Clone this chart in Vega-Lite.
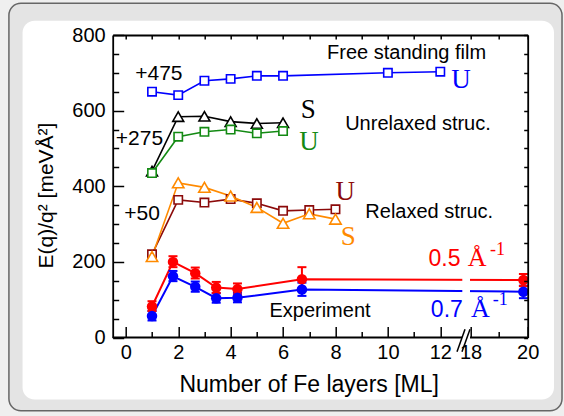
{
  "$schema": "https://vega.github.io/schema/vega-lite/v6.json",
  "width": 415,
  "height": 302.5,
  "autosize": "none",
  "padding": {"left": 112.7, "top": 35, "right": 36.3, "bottom": 78.5},
  "background": "#efefef",
  "datasets": {
    "theory": [
      {"series": "free", "layers": 1, "E": 650},
      {"series": "free", "layers": 2, "E": 641},
      {"series": "free", "layers": 3, "E": 679},
      {"series": "free", "layers": 4, "E": 684},
      {"series": "free", "layers": 5, "E": 692},
      {"series": "free", "layers": 6, "E": 692},
      {"series": "free", "layers": 10, "E": 700},
      {"series": "free", "layers": 12, "E": 703},
      {"series": "uS", "layers": 1, "E": 440},
      {"series": "uS", "layers": 2, "E": 584},
      {"series": "uS", "layers": 3, "E": 585},
      {"series": "uS", "layers": 4, "E": 571},
      {"series": "uS", "layers": 5, "E": 566},
      {"series": "uS", "layers": 6, "E": 568},
      {"series": "uU", "layers": 1, "E": 435},
      {"series": "uU", "layers": 2, "E": 531},
      {"series": "uU", "layers": 3, "E": 544},
      {"series": "uU", "layers": 4, "E": 550},
      {"series": "uU", "layers": 5, "E": 540},
      {"series": "uU", "layers": 6, "E": 546},
      {"series": "rU", "layers": 1, "E": 220},
      {"series": "rU", "layers": 2, "E": 364},
      {"series": "rU", "layers": 3, "E": 357},
      {"series": "rU", "layers": 4, "E": 366},
      {"series": "rU", "layers": 5, "E": 355},
      {"series": "rU", "layers": 6, "E": 335},
      {"series": "rU", "layers": 7, "E": 337},
      {"series": "rU", "layers": 8, "E": 339},
      {"series": "rS", "layers": 1, "E": 214},
      {"series": "rS", "layers": 2, "E": 409},
      {"series": "rS", "layers": 3, "E": 397},
      {"series": "rS", "layers": 4, "E": 374},
      {"series": "rS", "layers": 5, "E": 344},
      {"series": "rS", "layers": 6, "E": 302},
      {"series": "rS", "layers": 7, "E": 327},
      {"series": "rS", "layers": 8, "E": 313}
    ],
    "experiment": [
      {"series": "0.5", "layers": 1.0, "E": 82, "lo": 70, "hi": 96},
      {"series": "0.5", "layers": 1.8, "E": 200, "lo": 186, "hi": 215},
      {"series": "0.5", "layers": 2.65, "E": 170, "lo": 156, "hi": 185},
      {"series": "0.5", "layers": 3.45, "E": 132, "lo": 118, "hi": 147},
      {"series": "0.5", "layers": 4.26, "E": 128, "lo": 114, "hi": 143},
      {"series": "0.5", "layers": 6.72, "E": 154, "lo": 124, "hi": 186},
      {"series": "0.5", "layers": 19.85, "E": 152, "lo": 136, "hi": 168},
      {"series": "0.7", "layers": 1.0, "E": 57, "lo": 45, "hi": 70},
      {"series": "0.7", "layers": 1.8, "E": 162, "lo": 149, "hi": 176},
      {"series": "0.7", "layers": 2.65, "E": 134, "lo": 121, "hi": 148},
      {"series": "0.7", "layers": 3.45, "E": 104, "lo": 92, "hi": 117},
      {"series": "0.7", "layers": 4.26, "E": 105, "lo": 93, "hi": 118},
      {"series": "0.7", "layers": 6.72, "E": 127, "lo": 110, "hi": 145},
      {"series": "0.7", "layers": 19.85, "E": 121, "lo": 104, "hi": 137}
    ]
  },
  "resolve": {"axis": {"x": "independent", "y": "independent"}},
  "layer": [
    {
      "data": {"values": [{}]},
      "mark": {"type": "rect", "fill": "#e4e4e4", "stroke": "#666666", "strokeWidth": 1.5, "cornerRadius": 12},
      "encoding": {
        "x": {"datum": -4.46, "type": "quantitative", "scale": {"domain": [-0.5, 12, 18, 20], "range": [0, 327.6, 357.8, 415], "nice": false, "zero": false}, "axis": null},
        "x2": {"datum": 21.2},
        "y": {"datum": -194, "type": "quantitative", "scale": {"domain": [0, 800], "nice": false, "zero": false}, "axis": null},
        "y2": {"datum": 884}
      }
    },
    {
      "data": {"values": [{}]},
      "mark": {"type": "rect", "fill": "white", "cornerRadius": 12},
      "encoding": {
        "x": {"datum": -3.94, "type": "quantitative", "scale": {"domain": [-0.5, 12, 18, 20], "range": [0, 327.6, 357.8, 415], "nice": false, "zero": false}, "axis": null},
        "x2": {"datum": 20.92},
        "y": {"datum": -164, "type": "quantitative", "scale": {"domain": [0, 800], "nice": false, "zero": false}, "axis": null},
        "y2": {"datum": 838}
      }
    },
    {
      "data": {"name": "theory"},
      "mark": {"type": "line", "strokeWidth": 1.6},
      "encoding": {
        "x": {"field": "layers", "type": "quantitative", "scale": {"domain": [-0.5, 12, 18, 20], "range": [0, 327.6, 357.8, 415], "nice": false, "zero": false},
          "axis": {"orient": "top", "zindex": 1, "labels": false, "title": null, "values": [0, 1, 2, 3, 4, 5, 6, 7, 8, 9, 10, 11, 12, 18, 19, 20], "tickSize": -4}},
        "y": {"field": "E", "type": "quantitative", "scale": {"domain": [0, 800], "nice": false, "zero": false},
          "axis": {"orient": "right", "zindex": 1, "labels": false, "title": null, "values": [0, 50, 100, 150, 200, 250, 300, 350, 400, 450, 500, 550, 600, 650, 700, 750, 800], "tickSize": -4}},
        "color": {"field": "series", "type": "nominal", "legend": null,
          "scale": {"domain": ["free", "uS", "uU", "rS", "rU", "0.5", "0.7"], "range": ["#0000ff", "#000000", "#138a13", "#ff8a00", "#8b0a0a", "#ff0000", "#0000ff"]}}
      }
    },
    {
      "data": {"name": "theory"},
      "transform": [{"filter": {"field": "series", "equal": "uS"}}],
      "mark": {"type": "point", "shape": "triangle-up", "size": 120, "fill": "white", "strokeWidth": 1.6, "opacity": 1},
      "encoding": {
        "x": {"field": "layers", "type": "quantitative", "scale": {"domain": [-0.5, 12, 18, 20], "range": [0, 327.6, 357.8, 415], "nice": false, "zero": false}, "axis": null},
        "y": {"field": "E", "type": "quantitative", "scale": {"domain": [0, 800], "nice": false, "zero": false}, "axis": null},
        "stroke": {"field": "series", "type": "nominal", "legend": null,
          "scale": {"domain": ["free", "uS", "uU", "rS", "rU", "0.5", "0.7"], "range": ["#0000ff", "#000000", "#138a13", "#ff8a00", "#8b0a0a", "#ff0000", "#0000ff"]}}
      }
    },
    {
      "data": {"name": "theory"},
      "transform": [{"filter": {"field": "series", "oneOf": ["free", "uU", "rU"]}}],
      "mark": {"type": "point", "shape": "square", "size": 70, "fill": "white", "strokeWidth": 1.6, "opacity": 1},
      "encoding": {
        "x": {"field": "layers", "type": "quantitative", "scale": {"domain": [-0.5, 12, 18, 20], "range": [0, 327.6, 357.8, 415], "nice": false, "zero": false}, "axis": null},
        "y": {"field": "E", "type": "quantitative", "scale": {"domain": [0, 800], "nice": false, "zero": false}, "axis": null},
        "stroke": {"field": "series", "type": "nominal", "legend": null,
          "scale": {"domain": ["free", "uS", "uU", "rS", "rU", "0.5", "0.7"], "range": ["#0000ff", "#000000", "#138a13", "#ff8a00", "#8b0a0a", "#ff0000", "#0000ff"]}}
      }
    },
    {
      "data": {"name": "theory"},
      "transform": [{"filter": {"field": "series", "equal": "rS"}}],
      "mark": {"type": "point", "shape": "triangle-up", "size": 130, "fill": "white", "strokeWidth": 1.6, "opacity": 1},
      "encoding": {
        "x": {"field": "layers", "type": "quantitative", "scale": {"domain": [-0.5, 12, 18, 20], "range": [0, 327.6, 357.8, 415], "nice": false, "zero": false}, "axis": null},
        "y": {"field": "E", "type": "quantitative", "scale": {"domain": [0, 800], "nice": false, "zero": false}, "axis": null},
        "stroke": {"field": "series", "type": "nominal", "legend": null,
          "scale": {"domain": ["free", "uS", "uU", "rS", "rU", "0.5", "0.7"], "range": ["#0000ff", "#000000", "#138a13", "#ff8a00", "#8b0a0a", "#ff0000", "#0000ff"]}}
      }
    },
    {
      "data": {"name": "experiment"},
      "mark": {"type": "line", "strokeWidth": 2},
      "encoding": {
        "x": {"field": "layers", "type": "quantitative", "scale": {"domain": [-0.5, 12, 18, 20], "range": [0, 327.6, 357.8, 415], "nice": false, "zero": false}, "axis": null},
        "y": {"field": "E", "type": "quantitative", "scale": {"domain": [0, 800], "nice": false, "zero": false}, "axis": null},
        "color": {"field": "series", "type": "nominal", "legend": null,
          "scale": {"domain": ["free", "uS", "uU", "rS", "rU", "0.5", "0.7"], "range": ["#0000ff", "#000000", "#138a13", "#ff8a00", "#8b0a0a", "#ff0000", "#0000ff"]}}
      }
    },
    {
      "data": {"values": [{}]},
      "mark": {"type": "rect", "fill": "white"},
      "encoding": {
        "x": {"datum": 16.37, "type": "quantitative", "scale": {"domain": [-0.5, 12, 18, 20], "range": [0, 327.6, 357.8, 415], "nice": false, "zero": false}, "axis": null},
        "x2": {"datum": 17.9},
        "y": {"datum": 105, "type": "quantitative", "scale": {"domain": [0, 800], "nice": false, "zero": false}, "axis": null},
        "y2": {"datum": 172}
      }
    },
    {
      "data": {"name": "experiment"},
      "mark": {"type": "rule", "strokeWidth": 2},
      "encoding": {
        "x": {"field": "layers", "type": "quantitative", "scale": {"domain": [-0.5, 12, 18, 20], "range": [0, 327.6, 357.8, 415], "nice": false, "zero": false}, "axis": null},
        "y": {"field": "lo", "type": "quantitative", "scale": {"domain": [0, 800], "nice": false, "zero": false}, "axis": null},
        "y2": {"field": "hi"},
        "color": {"field": "series", "type": "nominal", "legend": null,
          "scale": {"domain": ["free", "uS", "uU", "rS", "rU", "0.5", "0.7"], "range": ["#0000ff", "#000000", "#138a13", "#ff8a00", "#8b0a0a", "#ff0000", "#0000ff"]}}
      }
    },
    {
      "data": {"name": "experiment"},
      "mark": {"type": "tick", "orient": "horizontal", "size": 9, "thickness": 2, "opacity": 1},
      "encoding": {
        "x": {"field": "layers", "type": "quantitative", "scale": {"domain": [-0.5, 12, 18, 20], "range": [0, 327.6, 357.8, 415], "nice": false, "zero": false}, "axis": null},
        "y": {"field": "hi", "type": "quantitative", "scale": {"domain": [0, 800], "nice": false, "zero": false}, "axis": null},
        "color": {"field": "series", "type": "nominal", "legend": null,
          "scale": {"domain": ["free", "uS", "uU", "rS", "rU", "0.5", "0.7"], "range": ["#0000ff", "#000000", "#138a13", "#ff8a00", "#8b0a0a", "#ff0000", "#0000ff"]}}
      }
    },
    {
      "data": {"name": "experiment"},
      "mark": {"type": "tick", "orient": "horizontal", "size": 9, "thickness": 2, "opacity": 1},
      "encoding": {
        "x": {"field": "layers", "type": "quantitative", "scale": {"domain": [-0.5, 12, 18, 20], "range": [0, 327.6, 357.8, 415], "nice": false, "zero": false}, "axis": null},
        "y": {"field": "lo", "type": "quantitative", "scale": {"domain": [0, 800], "nice": false, "zero": false}, "axis": null},
        "color": {"field": "series", "type": "nominal", "legend": null,
          "scale": {"domain": ["free", "uS", "uU", "rS", "rU", "0.5", "0.7"], "range": ["#0000ff", "#000000", "#138a13", "#ff8a00", "#8b0a0a", "#ff0000", "#0000ff"]}}
      }
    },
    {
      "data": {"name": "experiment"},
      "mark": {"type": "point", "filled": true, "size": 110, "opacity": 1, "strokeWidth": 0},
      "encoding": {
        "x": {"field": "layers", "type": "quantitative", "scale": {"domain": [-0.5, 12, 18, 20], "range": [0, 327.6, 357.8, 415], "nice": false, "zero": false},
          "axis": {"orient": "bottom", "zindex": 1, "domain": false, "values": [0, 1, 2, 3, 4, 5, 6, 7, 8, 9, 10, 11, 12, 18, 19, 20],
            "labelExpr": "datum.value % 2 === 0 ? datum.label : ''",
            "tickSize": {"condition": {"test": "datum.value % 2 === 0", "value": -11}, "value": -6},
            "labelPadding": 16, "labelFlush": false, "labelOverlap": false,
            "title": "Number of Fe layers [ML]", "titleX": 196, "titlePadding": 6}},
        "y": {"field": "E", "type": "quantitative", "scale": {"domain": [0, 800], "nice": false, "zero": false},
          "axis": {"orient": "left", "zindex": 1, "values": [0, 50, 100, 150, 200, 250, 300, 350, 400, 450, 500, 550, 600, 650, 700, 750, 800],
            "labelExpr": "datum.value % 200 === 0 ? datum.label : ''",
            "tickSize": {"condition": {"test": "datum.value % 200 === 0", "value": -11}, "value": -6},
            "labelPadding": 18.5, "labelFlush": false, "labelOverlap": false,
            "title": "E(q)/q² [meVÅ²]", "titleFontSize": 21, "titleY": 160, "titlePadding": 15}},
        "color": {"field": "series", "type": "nominal", "legend": null,
          "scale": {"domain": ["free", "uS", "uU", "rS", "rU", "0.5", "0.7"], "range": ["#0000ff", "#000000", "#138a13", "#ff8a00", "#8b0a0a", "#ff0000", "#0000ff"]}}
      }
    },
    {
      "data": {"values": [{}]},
      "mark": {"type": "rule", "color": "black", "strokeWidth": 1.8},
      "encoding": {
        "x": {"datum": -0.5, "type": "quantitative", "scale": {"domain": [-0.5, 12, 18, 20], "range": [0, 327.6, 357.8, 415], "nice": false, "zero": false}, "axis": null},
        "x2": {"datum": 16.31},
        "y": {"datum": 0, "type": "quantitative", "scale": {"domain": [0, 800], "nice": false, "zero": false}, "axis": null}
      }
    },
    {
      "data": {"values": [{}]},
      "mark": {"type": "rule", "color": "black", "strokeWidth": 1.8},
      "encoding": {
        "x": {"datum": 17.9, "type": "quantitative", "scale": {"domain": [-0.5, 12, 18, 20], "range": [0, 327.6, 357.8, 415], "nice": false, "zero": false}, "axis": null},
        "x2": {"datum": 20},
        "y": {"datum": 0, "type": "quantitative", "scale": {"domain": [0, 800], "nice": false, "zero": false}, "axis": null}
      }
    },
    {
      "data": {"values": [{}]},
      "mark": {"type": "rule", "color": "black", "strokeWidth": 1.5},
      "encoding": {
        "x": {"datum": 15.32, "type": "quantitative", "scale": {"domain": [-0.5, 12, 18, 20], "range": [0, 327.6, 357.8, 415], "nice": false, "zero": false}, "axis": null},
        "x2": {"datum": 16.91},
        "y": {"datum": -38, "type": "quantitative", "scale": {"domain": [0, 800], "nice": false, "zero": false}, "axis": null},
        "y2": {"datum": 22}
      }
    },
    {
      "data": {"values": [{}]},
      "mark": {"type": "rule", "color": "black", "strokeWidth": 1.5},
      "encoding": {
        "x": {"datum": 16.31, "type": "quantitative", "scale": {"domain": [-0.5, 12, 18, 20], "range": [0, 327.6, 357.8, 415], "nice": false, "zero": false}, "axis": null},
        "x2": {"datum": 17.9},
        "y": {"datum": -38, "type": "quantitative", "scale": {"domain": [0, 800], "nice": false, "zero": false}, "axis": null},
        "y2": {"datum": 22}
      }
    },
    {
      "data": {"values": [{}]},
      "mark": {"type": "text", "text": "Free standing film", "align": "left", "baseline": "alphabetic", "font": "Liberation Sans", "fontSize": 20, "color": "black"},
      "encoding": {
        "x": {"datum": 7.68, "type": "quantitative", "scale": {"domain": [-0.5, 12, 18, 20], "range": [0, 327.6, 357.8, 415], "nice": false, "zero": false}, "axis": null},
        "y": {"datum": 735.7, "type": "quantitative", "scale": {"domain": [0, 800], "nice": false, "zero": false}, "axis": null}
      }
    },
    {
      "data": {"values": [{}]},
      "mark": {"type": "text", "text": "+475", "align": "left", "baseline": "alphabetic", "font": "Liberation Sans", "fontSize": 21, "color": "black"},
      "encoding": {
        "x": {"datum": 0.36, "type": "quantitative", "scale": {"domain": [-0.5, 12, 18, 20], "range": [0, 327.6, 357.8, 415], "nice": false, "zero": false}, "axis": null},
        "y": {"datum": 681, "type": "quantitative", "scale": {"domain": [0, 800], "nice": false, "zero": false}, "axis": null}
      }
    },
    {
      "data": {"values": [{}]},
      "mark": {"type": "text", "text": "+275", "align": "left", "baseline": "alphabetic", "font": "Liberation Sans", "fontSize": 21, "color": "black"},
      "encoding": {
        "x": {"datum": -0.38, "type": "quantitative", "scale": {"domain": [-0.5, 12, 18, 20], "range": [0, 327.6, 357.8, 415], "nice": false, "zero": false}, "axis": null},
        "y": {"datum": 509, "type": "quantitative", "scale": {"domain": [0, 800], "nice": false, "zero": false}, "axis": null}
      }
    },
    {
      "data": {"values": [{}]},
      "mark": {"type": "text", "text": "+50", "align": "left", "baseline": "alphabetic", "font": "Liberation Sans", "fontSize": 21, "color": "black"},
      "encoding": {
        "x": {"datum": -0.06, "type": "quantitative", "scale": {"domain": [-0.5, 12, 18, 20], "range": [0, 327.6, 357.8, 415], "nice": false, "zero": false}, "axis": null},
        "y": {"datum": 311, "type": "quantitative", "scale": {"domain": [0, 800], "nice": false, "zero": false}, "axis": null}
      }
    },
    {
      "data": {"values": [{}]},
      "mark": {"type": "text", "text": "Unrelaxed struc.", "align": "left", "baseline": "alphabetic", "font": "Liberation Sans", "fontSize": 20, "color": "black"},
      "encoding": {
        "x": {"datum": 8.37, "type": "quantitative", "scale": {"domain": [-0.5, 12, 18, 20], "range": [0, 327.6, 357.8, 415], "nice": false, "zero": false}, "axis": null},
        "y": {"datum": 549, "type": "quantitative", "scale": {"domain": [0, 800], "nice": false, "zero": false}, "axis": null}
      }
    },
    {
      "data": {"values": [{}]},
      "mark": {"type": "text", "text": "Relaxed struc.", "align": "left", "baseline": "alphabetic", "font": "Liberation Sans", "fontSize": 20, "color": "black"},
      "encoding": {
        "x": {"datum": 9.14, "type": "quantitative", "scale": {"domain": [-0.5, 12, 18, 20], "range": [0, 327.6, 357.8, 415], "nice": false, "zero": false}, "axis": null},
        "y": {"datum": 315, "type": "quantitative", "scale": {"domain": [0, 800], "nice": false, "zero": false}, "axis": null}
      }
    },
    {
      "data": {"values": [{}]},
      "mark": {"type": "text", "text": "Experiment", "align": "left", "baseline": "alphabetic", "font": "Liberation Sans", "fontSize": 20, "color": "black"},
      "encoding": {
        "x": {"datum": 5.48, "type": "quantitative", "scale": {"domain": [-0.5, 12, 18, 20], "range": [0, 327.6, 357.8, 415], "nice": false, "zero": false}, "axis": null},
        "y": {"datum": 55, "type": "quantitative", "scale": {"domain": [0, 800], "nice": false, "zero": false}, "axis": null}
      }
    },
    {
      "data": {"values": [{}]},
      "mark": {"type": "text", "text": "U", "align": "left", "baseline": "alphabetic", "font": "Liberation Serif", "fontSize": 27, "color": "#0000ff"},
      "encoding": {
        "x": {"datum": 14.2, "type": "quantitative", "scale": {"domain": [-0.5, 12, 18, 20], "range": [0, 327.6, 357.8, 415], "nice": false, "zero": false}, "axis": null},
        "y": {"datum": 659, "type": "quantitative", "scale": {"domain": [0, 800], "nice": false, "zero": false}, "axis": null}
      }
    },
    {
      "data": {"values": [{}]},
      "mark": {"type": "text", "text": "S", "align": "left", "baseline": "alphabetic", "font": "Liberation Serif", "fontSize": 27, "color": "black"},
      "encoding": {
        "x": {"datum": 6.68, "type": "quantitative", "scale": {"domain": [-0.5, 12, 18, 20], "range": [0, 327.6, 357.8, 415], "nice": false, "zero": false}, "axis": null},
        "y": {"datum": 580, "type": "quantitative", "scale": {"domain": [0, 800], "nice": false, "zero": false}, "axis": null}
      }
    },
    {
      "data": {"values": [{}]},
      "mark": {"type": "text", "text": "U", "align": "left", "baseline": "alphabetic", "font": "Liberation Serif", "fontSize": 27, "color": "#138a13"},
      "encoding": {
        "x": {"datum": 6.62, "type": "quantitative", "scale": {"domain": [-0.5, 12, 18, 20], "range": [0, 327.6, 357.8, 415], "nice": false, "zero": false}, "axis": null},
        "y": {"datum": 496, "type": "quantitative", "scale": {"domain": [0, 800], "nice": false, "zero": false}, "axis": null}
      }
    },
    {
      "data": {"values": [{}]},
      "mark": {"type": "text", "text": "U", "align": "left", "baseline": "alphabetic", "font": "Liberation Serif", "fontSize": 27, "color": "#8b0a0a"},
      "encoding": {
        "x": {"datum": 8.0, "type": "quantitative", "scale": {"domain": [-0.5, 12, 18, 20], "range": [0, 327.6, 357.8, 415], "nice": false, "zero": false}, "axis": null},
        "y": {"datum": 364, "type": "quantitative", "scale": {"domain": [0, 800], "nice": false, "zero": false}, "axis": null}
      }
    },
    {
      "data": {"values": [{}]},
      "mark": {"type": "text", "text": "S", "align": "left", "baseline": "alphabetic", "font": "Liberation Serif", "fontSize": 27, "color": "#ff8a00"},
      "encoding": {
        "x": {"datum": 8.2, "type": "quantitative", "scale": {"domain": [-0.5, 12, 18, 20], "range": [0, 327.6, 357.8, 415], "nice": false, "zero": false}, "axis": null},
        "y": {"datum": 245, "type": "quantitative", "scale": {"domain": [0, 800], "nice": false, "zero": false}, "axis": null}
      }
    },
    {
      "data": {"values": [{}]},
      "mark": {"type": "text", "text": "0.5", "align": "left", "baseline": "alphabetic", "font": "Liberation Sans", "fontSize": 23, "color": "#ff0000"},
      "encoding": {
        "x": {"datum": 11.55, "type": "quantitative", "scale": {"domain": [-0.5, 12, 18, 20], "range": [0, 327.6, 357.8, 415], "nice": false, "zero": false}, "axis": null},
        "y": {"datum": 189, "type": "quantitative", "scale": {"domain": [0, 800], "nice": false, "zero": false}, "axis": null}
      }
    },
    {
      "data": {"values": [{}]},
      "mark": {"type": "text", "text": "Å", "align": "left", "baseline": "alphabetic", "font": "Liberation Serif", "fontSize": 26, "color": "#ff0000"},
      "encoding": {
        "x": {"datum": 17.45, "type": "quantitative", "scale": {"domain": [-0.5, 12, 18, 20], "range": [0, 327.6, 357.8, 415], "nice": false, "zero": false}, "axis": null},
        "y": {"datum": 189, "type": "quantitative", "scale": {"domain": [0, 800], "nice": false, "zero": false}, "axis": null}
      }
    },
    {
      "data": {"values": [{}]},
      "mark": {"type": "text", "text": "-1", "align": "left", "baseline": "alphabetic", "font": "Liberation Serif", "fontSize": 18, "color": "#ff0000"},
      "encoding": {
        "x": {"datum": 18.68, "type": "quantitative", "scale": {"domain": [-0.5, 12, 18, 20], "range": [0, 327.6, 357.8, 415], "nice": false, "zero": false}, "axis": null},
        "y": {"datum": 218, "type": "quantitative", "scale": {"domain": [0, 800], "nice": false, "zero": false}, "axis": null}
      }
    },
    {
      "data": {"values": [{}]},
      "mark": {"type": "text", "text": "0.7", "align": "left", "baseline": "alphabetic", "font": "Liberation Sans", "fontSize": 23, "color": "#0000ff"},
      "encoding": {
        "x": {"datum": 11.64, "type": "quantitative", "scale": {"domain": [-0.5, 12, 18, 20], "range": [0, 327.6, 357.8, 415], "nice": false, "zero": false}, "axis": null},
        "y": {"datum": 55, "type": "quantitative", "scale": {"domain": [0, 800], "nice": false, "zero": false}, "axis": null}
      }
    },
    {
      "data": {"values": [{}]},
      "mark": {"type": "text", "text": "Å", "align": "left", "baseline": "alphabetic", "font": "Liberation Serif", "fontSize": 26, "color": "#0000ff"},
      "encoding": {
        "x": {"datum": 18.02, "type": "quantitative", "scale": {"domain": [-0.5, 12, 18, 20], "range": [0, 327.6, 357.8, 415], "nice": false, "zero": false}, "axis": null},
        "y": {"datum": 55, "type": "quantitative", "scale": {"domain": [0, 800], "nice": false, "zero": false}, "axis": null}
      }
    },
    {
      "data": {"values": [{}]},
      "mark": {"type": "text", "text": "-1", "align": "left", "baseline": "alphabetic", "font": "Liberation Serif", "fontSize": 18, "color": "#0000ff"},
      "encoding": {
        "x": {"datum": 18.78, "type": "quantitative", "scale": {"domain": [-0.5, 12, 18, 20], "range": [0, 327.6, 357.8, 415], "nice": false, "zero": false}, "axis": null},
        "y": {"datum": 86, "type": "quantitative", "scale": {"domain": [0, 800], "nice": false, "zero": false}, "axis": null}
      }
    }
  ],
  "config": {
    "view": {"stroke": null},
    "axis": {
      "grid": false,
      "labelFont": "Liberation Sans",
      "labelFontSize": 20,
      "labelColor": "black",
      "titleFont": "Liberation Sans",
      "titleFontSize": 23,
      "titleFontWeight": "normal",
      "titleColor": "black",
      "domainColor": "black",
      "domainWidth": 1.8,
      "tickColor": "black",
      "tickWidth": 1.5
    }
  }
}
